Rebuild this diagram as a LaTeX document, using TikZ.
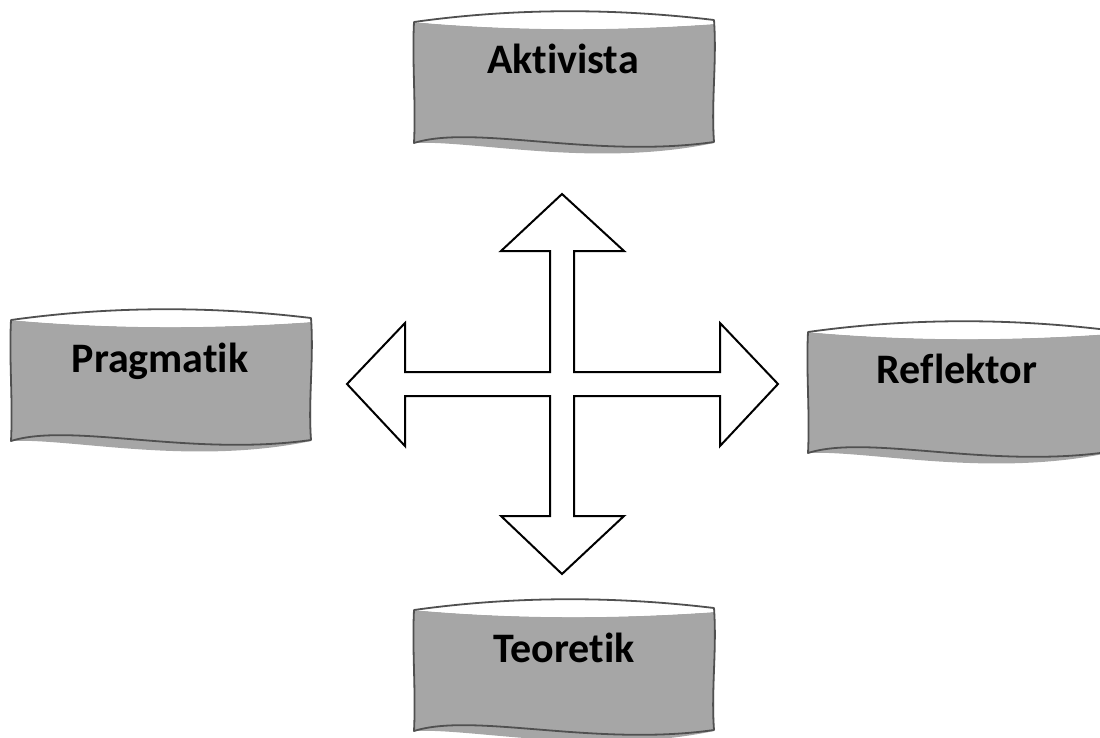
\documentclass[tikz,border=0pt]{standalone}
\usepackage{fontspec}
\setmainfont[Ligatures={NoCommon,NoContextual}]{Carlito}
\definecolor{boxgray}{RGB}{166,166,166}
\definecolor{boxedge}{RGB}{80,80,80}
\tikzset{
  boxfill/.style={fill=boxgray},
  boxline/.style={draw=boxedge, line width=1.8pt, line join=round},
  crossline/.style={draw=black, line width=2pt, fill=white, line join=miter},
  label/.style={font=\fontsize{42}{48}\selectfont\bfseries, inner sep=0pt, anchor=base, text=black}
}
\newcommand{\drawbanner}[1]{%
\begin{scope}[shift={#1}]
  \fill[boxfill] (0,0) .. controls (100,9) and (200,9) .. (300,2) -- (300,121)
     .. controls (180,146) and (60,118) .. (0,121) -- cycle;
  \fill[white] (0,0) .. controls (100,-14) and (200,-14) .. (300,-2) -- (300,2)
     .. controls (200,9) and (100,9) .. (0,0) -- cycle;
  \draw[boxline] (0,0) .. controls (100,-14) and (200,-14) .. (300,-2)
     .. controls (303,40) and (297,80) .. (300,120)
     .. controls (180,137) and (60,102) .. (0,121)
     .. controls (2,80) and (-2,40) .. (0,0) -- cycle;
\end{scope}}
\begin{document}
\begin{tikzpicture}[x=1pt,y=-1pt]
\useasboundingbox (0,0) rectangle (1100,737);
\drawbanner{(414,22)}
\drawbanner{(11,320)}
\drawbanner{(808,332)}
\drawbanner{(414,610)}
\node[label] (akt) at (563,73) {Aktivista};
\node[label] (prag) at (160,372) {Pragmatik};
\node[label] (refl) at (957,383) {Reflektor};
\node[label] (teo) at (564,662) {Teoretik};
\draw[crossline] (550,372) -- (405,372) -- (405,323) -- (347,384) -- (405,446) -- (405,396)
  -- (550,396) -- (550,516) -- (501,516) -- (562,574) -- (624,516) -- (574,516)
  -- (574,396) -- (720,396) -- (720,446) -- (778,384) -- (720,323) -- (720,372)
  -- (574,372) -- (574,251) -- (624,251) -- (562,194) -- (501,251) -- (550,251) -- cycle;
\end{tikzpicture}
\end{document}
